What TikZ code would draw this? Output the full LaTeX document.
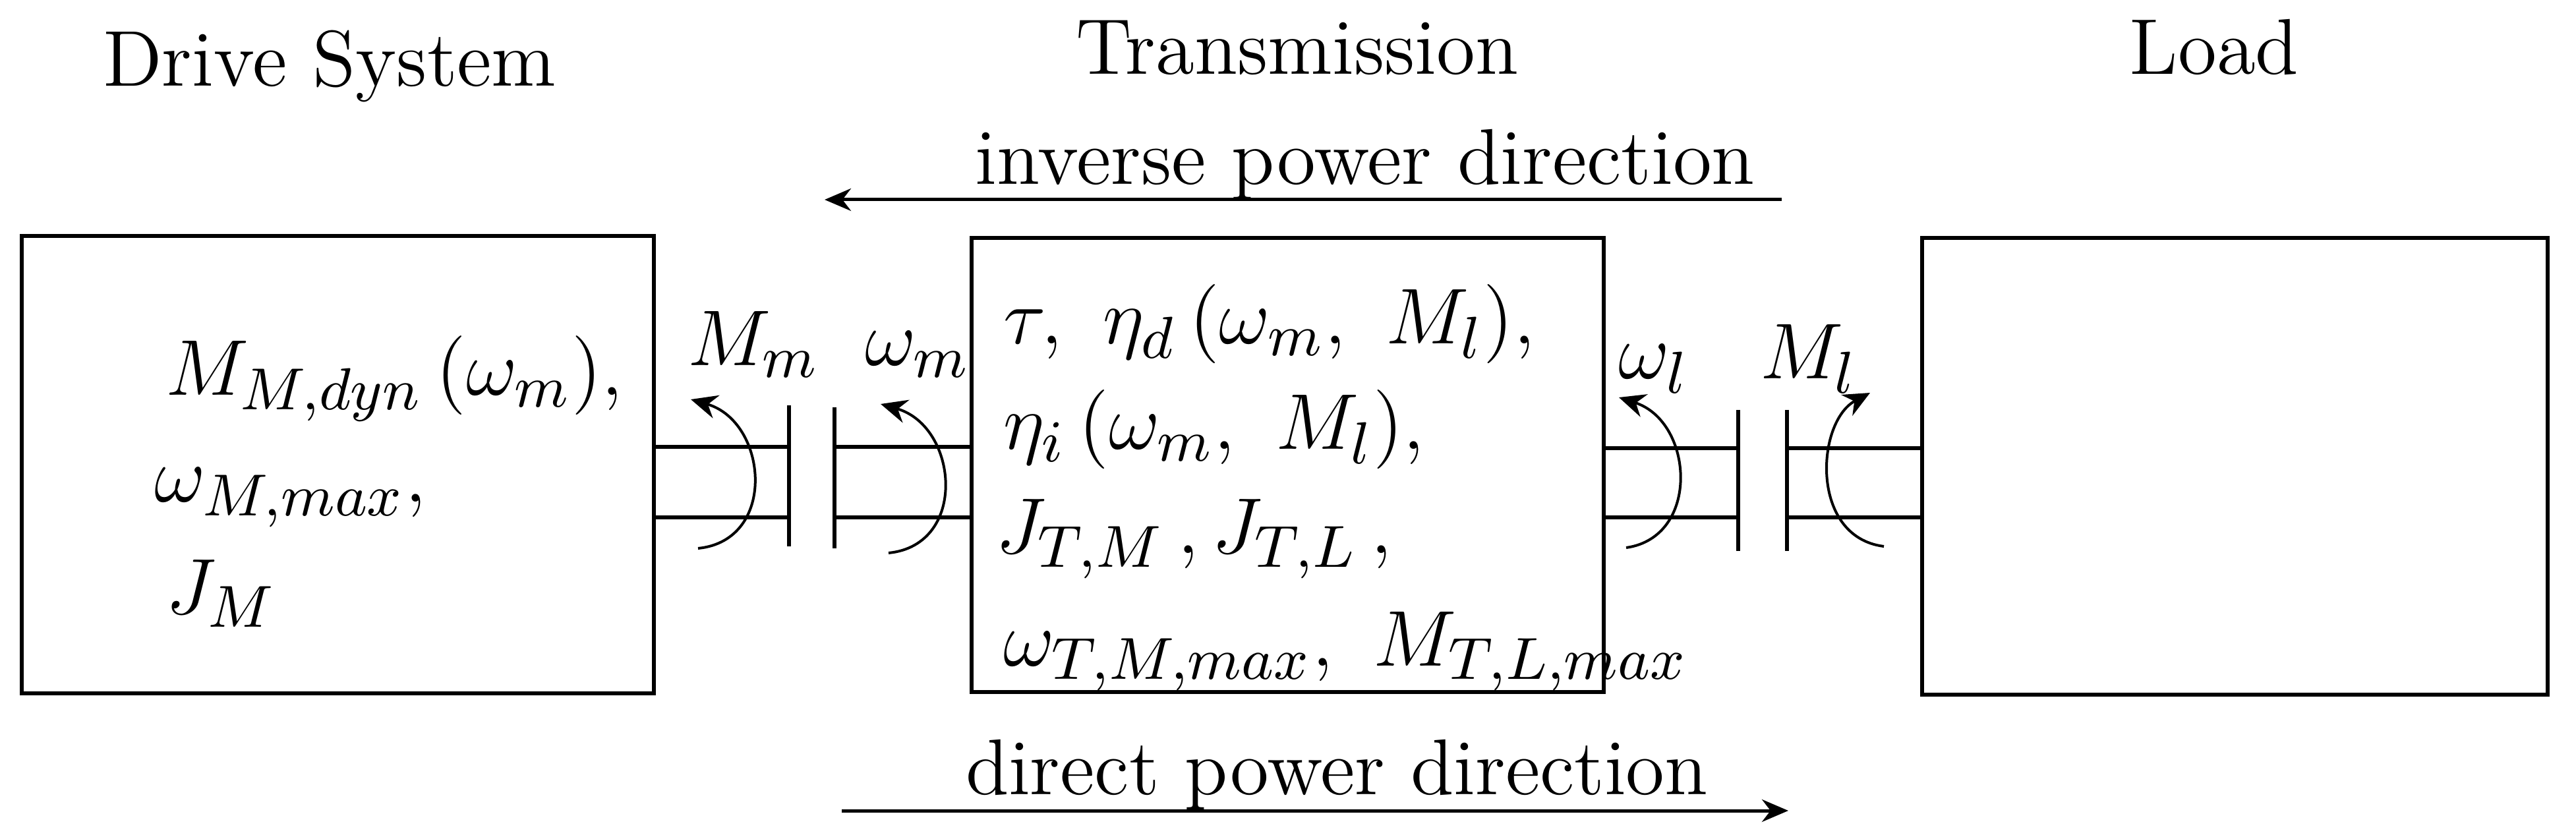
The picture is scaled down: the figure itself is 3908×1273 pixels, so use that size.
\documentclass[tikz,border=0pt]{standalone}
\usetikzlibrary{arrows.meta}
\begin{document}
\begin{tikzpicture}[x=0.1pt,y=-0.1pt,
  box/.style={draw,line width=0.6pt},
  shaft/.style={line width=0.55pt},
  rot/.style={line width=0.4pt,-{Stealth[length=4pt,width=3.6pt]}},
  power/.style={line width=0.5pt,-{Stealth[length=4pt,width=3.4pt]}},
  title/.style={inner sep=0,anchor=base,font=\fontsize{12}{14}\selectfont},
  txt/.style={inner sep=0,anchor=base west,font=\fontsize{12.5}{15}\selectfont}]
\useasboundingbox (0,0) rectangle (3908,1273);
% boxes
\draw[box] (33,358) rectangle (992,1052);
\draw[box] (1474,361) rectangle (2433,1050);
\draw[box] (2916,361) rectangle (3865,1054);
% titles
\node[title] (t1) at (500,131) {Drive System};
\node[title] (t2) at (1968,113) {Transmission};
\node[title] (t3) at (3359,113) {Load};
% box texts
\node[txt] (a1) at (249,600) {$M_{M,dyn}\,(\omega_m),$};
\node[txt] (a2) at (232,762) {$\omega_{M,max},$};
\node[txt] (a3) at (249,931) {$J_M$};
\node[txt] (b1) at (1520,522) {$\tau,\ \eta_d\,(\omega_m,\ M_l),$};
\node[txt] (b2) at (1520,682) {$\eta_i\,(\omega_m,\ M_l),$};
\node[txt] (b3) at (1508,840) {$J_{T,M}\,,J_{T,L}\,,$};
\node[txt] (b4) at (1520,1010) {$\omega_{T,M,max},\ M_{T,L,max}$};
% shafts and plates
\coordinate (p1t) at (1197,615); \coordinate (p1b) at (1197,829);
\coordinate (p2t) at (1266,618); \coordinate (p2b) at (1266,832);
\coordinate (p3t) at (2637,622); \coordinate (p3b) at (2637,836);
\coordinate (p4t) at (2711,622); \coordinate (p4b) at (2711,836);
\draw[shaft] (p1t) -- (p1b); \draw[shaft] (p2t) -- (p2b);
\draw[shaft] (p3t) -- (p3b); \draw[shaft] (p4t) -- (p4b);
\draw[shaft] (992,678) -- (1197,678); \draw[shaft] (992,785) -- (1197,785);
\draw[shaft] (1266,678) -- (1474,678); \draw[shaft] (1266,785) -- (1474,785);
\draw[shaft] (2433,680) -- (2637,680); \draw[shaft] (2433,785) -- (2637,785);
\draw[shaft] (2711,680) -- (2916,680); \draw[shaft] (2711,785) -- (2916,785);
% rotation arrows
\draw[rot] (1059,832) .. controls (1180,820) and (1165,640) .. (1048,606);
\draw[rot] (1348,839) .. controls (1469,827) and (1454,647) .. (1336,613);
\draw[rot] (2467,831) .. controls (2580,815) and (2570,640) .. (2456,603);
\draw[rot] (2858,829) .. controls (2745,815) and (2755,640) .. (2837,596);
% labels
\node[txt] (l1) at (1041,555) {$M_m$};
\node[txt] (l2) at (1310,555) {$\omega_m$};
\node[txt] (l3) at (2453,575) {$\omega_l$};
\node[txt] (l4) at (2668,575) {$M_l$};
% power directions
\node[title] (inv) at (2071,280) {inverse power direction};
\coordinate (i1) at (2703,303); \coordinate (i2) at (1251,303);
\draw[power] (i1) -- (i2);
\node[title] (dir) at (2028,1205) {direct power direction};
\coordinate (d1) at (1277,1230); \coordinate (d2) at (2713,1230);
\draw[power] (d1) -- (d2);
\end{tikzpicture}
\end{document}
